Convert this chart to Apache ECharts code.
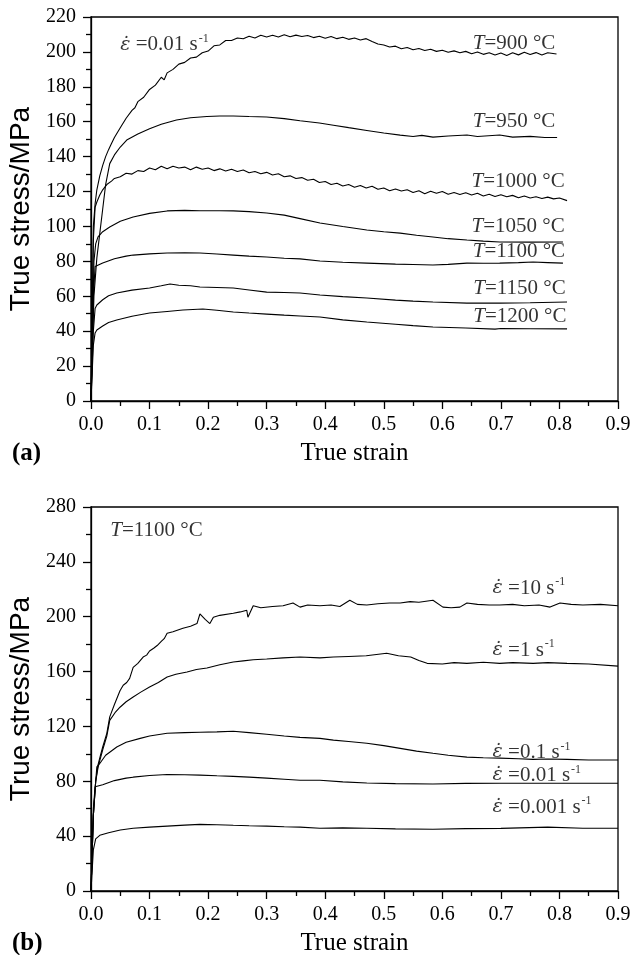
<!DOCTYPE html>
<html>
<head>
<meta charset="utf-8">
<script src="https://cdn.jsdelivr.net/npm/echarts@6.0.0/dist/echarts.min.js"></script>
<style>
  html, body {margin: 0; padding: 0; background: #fff;}
  #chart {width: 630px; height: 955px;}
</style>
</head>
<body>
<div id="chart"></div>
<script>
// (a) strain rate 0.01 s-1, different temperatures: [true strain, true stress MPa]
var t900 = [[0,0],[0.004,100],[0.007,113],[0.01,121],[0.015,129],[0.02,135],[0.025,140],[0.03,144],[0.035,147.5],[0.04,151],[0.05,156.5],[0.06,162],[0.07,166.5],[0.075,168],[0.08,171.5],[0.09,174],[0.1,178.5],[0.11,181],[0.12,185.5],[0.125,184],[0.13,188],[0.14,190],[0.15,193],[0.16,194],[0.17,196.5],[0.18,197],[0.19,199.5],[0.2,200.5],[0.21,203.5],[0.22,204],[0.23,206.5],[0.24,206.5],[0.25,208],[0.26,207.5],[0.27,209],[0.28,208],[0.29,209.5],[0.3,208.5],[0.31,209.5],[0.32,208.5],[0.33,209.8],[0.34,208.7],[0.35,209.6],[0.36,208.8],[0.37,209.4],[0.38,208.2],[0.39,209],[0.4,207.8],[0.41,208.8],[0.42,207.6],[0.43,208.4],[0.44,207.2],[0.45,208],[0.46,206.8],[0.47,207.6],[0.48,206],[0.49,204.5],[0.5,204],[0.51,202.8],[0.52,203.3],[0.53,201.8],[0.54,202.5],[0.55,201.2],[0.56,202],[0.57,200.8],[0.58,201.5],[0.59,200.3],[0.6,201],[0.61,199.8],[0.62,200.6],[0.63,199.5],[0.64,200.3],[0.65,199],[0.66,200],[0.67,198.6],[0.68,199.5],[0.69,198.2],[0.7,199.4],[0.71,198],[0.72,199.5],[0.73,198.3],[0.74,199.8],[0.75,198.5],[0.76,199.6],[0.77,198.2],[0.78,199.5],[0.795,198.8]];
var t950 = [[0,0],[0.005,60],[0.01,82],[0.015,96],[0.02,110],[0.025,124],[0.032,136],[0.04,141],[0.05,145.5],[0.061,149.5],[0.08,153],[0.1,156],[0.12,158.5],[0.146,161],[0.17,162.3],[0.198,163],[0.22,163.3],[0.243,163.3],[0.27,163],[0.3,162.7],[0.33,161.8],[0.357,160.6],[0.39,159.3],[0.414,158],[0.44,156.6],[0.471,155],[0.5,153.5],[0.528,152.3],[0.55,151.5],[0.565,152.2],[0.584,151.2],[0.61,151.8],[0.642,152.4],[0.66,151.5],[0.698,152.4],[0.72,151.2],[0.75,151.6],[0.775,151],[0.796,151]];
var t1000 = [[0,0],[0.004,92],[0.007,111],[0.01,114],[0.015,118],[0.02,121],[0.027,124],[0.035,126],[0.04,127.5],[0.05,128.5],[0.06,130.5],[0.07,130],[0.08,132],[0.09,131.5],[0.1,133.5],[0.11,132.5],[0.12,134.5],[0.13,133],[0.14,134.5],[0.15,133.5],[0.16,134],[0.17,132.5],[0.18,134],[0.19,132.8],[0.2,133.5],[0.21,132],[0.22,133],[0.23,131.8],[0.24,132.8],[0.25,131.5],[0.26,132.3],[0.27,130.8],[0.28,131.5],[0.29,130.2],[0.3,131],[0.31,129.5],[0.32,130.2],[0.33,128.5],[0.34,129],[0.35,127.5],[0.36,128],[0.37,126.5],[0.38,127],[0.39,125.2],[0.4,125.8],[0.41,124],[0.42,124.8],[0.43,123.2],[0.44,124],[0.45,122.5],[0.46,123.5],[0.47,122],[0.48,123],[0.49,121.3],[0.5,122],[0.51,120.5],[0.52,121.5],[0.53,120.3],[0.54,121],[0.55,119.5],[0.56,120.5],[0.57,118.8],[0.58,120.2],[0.59,119],[0.6,120],[0.61,118.5],[0.62,119.5],[0.63,118.3],[0.64,119.3],[0.65,118],[0.66,119],[0.67,117.5],[0.68,118.5],[0.69,117.2],[0.7,118.2],[0.71,117],[0.72,117.8],[0.73,116.5],[0.74,117.5],[0.75,116.3],[0.76,117],[0.77,116],[0.78,116.8],[0.79,115.8],[0.8,116.3],[0.813,114.8]];
var t1050 = [[0,0],[0.005,80],[0.008,90],[0.012,94],[0.02,97],[0.032,99.7],[0.05,103],[0.072,105.4],[0.1,107.5],[0.13,108.9],[0.16,109.2],[0.186,109],[0.22,109],[0.243,108.9],[0.27,108.5],[0.3,107.7],[0.33,106.5],[0.357,104.5],[0.391,102],[0.43,100],[0.471,98],[0.5,97],[0.528,96.2],[0.556,95],[0.584,94],[0.61,93],[0.642,92.2],[0.67,91.6],[0.698,91.1],[0.75,91],[0.806,91.1]];
var t1100 = [[0,0],[0.004,60],[0.007,77],[0.01,77.5],[0.02,79],[0.04,81.5],[0.06,83],[0.072,83.6],[0.1,84.3],[0.13,84.8],[0.16,84.9],[0.186,84.8],[0.215,84.2],[0.243,83.6],[0.27,83],[0.3,82.5],[0.33,81.8],[0.357,81.4],[0.391,80.2],[0.43,79.5],[0.471,79],[0.52,78.4],[0.55,78.2],[0.584,77.9],[0.61,78.3],[0.642,79],[0.67,78.9],[0.698,79],[0.73,79.3],[0.755,79.6],[0.78,79.3],[0.806,79]];
var t1150 = [[0,0],[0.004,40],[0.007,53],[0.01,55],[0.02,58],[0.03,60.3],[0.044,61.9],[0.07,63.5],[0.1,64.7],[0.12,66],[0.135,67],[0.15,66.3],[0.17,66],[0.186,65.3],[0.215,65],[0.243,64.7],[0.27,63.6],[0.3,62.4],[0.33,62.2],[0.357,61.9],[0.391,60.7],[0.43,59.8],[0.471,59],[0.52,57.8],[0.55,57.2],[0.584,56.7],[0.642,56.1],[0.698,56.1],[0.75,56.3],[0.813,56.7]];
var t1200 = [[0,0],[0.004,32],[0.007,39],[0.01,40.7],[0.02,43],[0.03,45],[0.044,46.4],[0.07,48.6],[0.1,50.4],[0.13,51.3],[0.157,52.1],[0.191,52.7],[0.215,52],[0.243,51],[0.27,50.4],[0.3,49.8],[0.33,49.2],[0.357,48.7],[0.391,48.1],[0.43,46.5],[0.471,45.3],[0.52,44],[0.55,43.2],[0.584,42.4],[0.64,41.8],[0.69,41.2],[0.7,41.5],[0.75,41.4],[0.813,41.3]];

// (b) T = 1100 C, different strain rates
var r10 = [[0,0],[0.004,55],[0.008,80],[0.012,92],[0.015,97],[0.02,105],[0.027,115],[0.032,127],[0.04,136],[0.0495,146],[0.055,150],[0.061,152],[0.066,155],[0.072,163],[0.08,166],[0.089,170.6],[0.095,172],[0.1,175],[0.107,177],[0.113,179],[0.12,182],[0.125,184],[0.13,188],[0.14,189],[0.157,191.6],[0.17,193],[0.181,195],[0.186,202],[0.195,198],[0.203,195],[0.209,199.6],[0.22,201],[0.243,202.5],[0.255,203.5],[0.266,204.7],[0.268,199.6],[0.277,208],[0.29,206.5],[0.31,207.5],[0.328,208],[0.345,210],[0.357,207],[0.37,208.5],[0.391,208],[0.41,208.5],[0.425,207.5],[0.442,212],[0.455,209],[0.471,208.5],[0.49,209.5],[0.51,210],[0.528,210],[0.545,211],[0.56,210.5],[0.584,212],[0.601,207],[0.615,206.5],[0.63,207],[0.642,210],[0.66,209],[0.68,208.5],[0.698,208.5],[0.72,209],[0.74,208],[0.765,208.5],[0.784,207],[0.801,210],[0.82,209],[0.84,208.5],[0.87,209],[0.9,208]];
var r1 = [[0,0],[0.004,55],[0.008,80],[0.012,90],[0.015,95],[0.02,103],[0.027,113],[0.032,124.4],[0.041,130],[0.0495,134],[0.06,138],[0.072,141.5],[0.085,145],[0.1,148.8],[0.115,152],[0.13,156],[0.145,158],[0.164,159.7],[0.18,161.5],[0.198,162.6],[0.22,165],[0.243,167],[0.26,167.8],[0.277,168.6],[0.3,169.2],[0.328,170],[0.357,170.6],[0.391,170],[0.414,170.6],[0.44,171],[0.47,171.5],[0.505,173.4],[0.525,171.5],[0.546,170.6],[0.56,168],[0.574,166],[0.6,165.5],[0.62,166.5],[0.642,166],[0.67,166.8],[0.698,166],[0.72,166.5],[0.755,166],[0.78,166.5],[0.813,166],[0.85,165.5],[0.9,164]];
var r01 = [[0,0],[0.004,55],[0.008,80],[0.01,90.5],[0.015,93],[0.025,99],[0.044,105],[0.06,108.5],[0.084,111.3],[0.1,113],[0.13,115],[0.16,115.5],[0.186,115.8],[0.215,116],[0.243,116.5],[0.27,115.5],[0.3,114.3],[0.33,113],[0.357,112],[0.391,111.3],[0.414,110],[0.44,109],[0.471,107.7],[0.5,106],[0.528,104],[0.556,102],[0.584,100.4],[0.61,99],[0.642,97.6],[0.67,97.2],[0.698,96.9],[0.73,96.4],[0.755,96],[0.78,96.2],[0.813,96],[0.85,95.5],[0.9,95.5]];
var r001 = [[0,0],[0.004,60],[0.007,76],[0.01,77],[0.02,77.5],[0.04,80.5],[0.06,82.3],[0.072,83],[0.1,84.2],[0.13,85],[0.16,84.8],[0.186,84.5],[0.215,84],[0.243,83.6],[0.27,83],[0.3,82.3],[0.33,81.5],[0.357,80.8],[0.391,80.8],[0.43,79.6],[0.471,78.7],[0.52,78.3],[0.584,78],[0.64,78.5],[0.698,78.6],[0.8,78.6],[0.9,78.6]];
var r0001 = [[0,0],[0.004,30],[0.008,38],[0.01,39],[0.015,40.6],[0.03,42.5],[0.05,44.5],[0.072,45.7],[0.1,46.6],[0.13,47.3],[0.16,48],[0.186,48.6],[0.215,48.3],[0.243,47.9],[0.27,47.6],[0.3,47.3],[0.33,46.8],[0.357,46.6],[0.391,45.8],[0.43,46],[0.471,45.8],[0.52,45.3],[0.584,45],[0.64,45.5],[0.7,45.7],[0.78,46.6],[0.84,45.8],[0.9,45.8]];

var xTicks = [0, 0.9, 0.1];
var yTicksA = [0, 220, 20];
var yTicksB = [0, 280, 40];

var EPS = "{e|\u03B5\u0307}{n| =";
// annotation text, anchored (left, middle) at a data point
var notesA = [
  {value: [0.049, 204], text: EPS + "0.01 s}{s|-1}"},
  {value: [0.651, 205], text: "{i|T}{n|=900 \u00B0C}"},
  {value: [0.651, 160], text: "{i|T}{n|=950 \u00B0C}"},
  {value: [0.649, 125.5], text: "{i|T}{n|=1000 \u00B0C}"},
  {value: [0.649, 99.7], text: "{i|T}{n|=1050 \u00B0C}"},
  {value: [0.651, 85.4], text: "{i|T}{n|=1100 \u00B0C}"},
  {value: [0.652, 64.7], text: "{i|T}{n|=1150 \u00B0C}"},
  {value: [0.652, 48.7], text: "{i|T}{n|=1200 \u00B0C}"}
];
var notesB = [
  {value: [0.032, 263], text: "{i|T}{n|=1100 \u00B0C}"},
  {value: [0.685, 220.7], text: EPS + "10 s}{s|-1}"},
  {value: [0.685, 175.5], text: EPS + "1 s}{s|-1}"},
  {value: [0.685, 101], text: EPS + "0.1 s}{s|-1}"},
  {value: [0.685, 84.3], text: EPS + "0.01 s}{s|-1}"},
  {value: [0.685, 61], text: EPS + "0.001 s}{s|-1}"}
];

var SERIF = "'Liberation Serif', 'DejaVu Serif', serif";
var SANS = "'Liberation Sans', Arial, sans-serif";
var black = {color: "#000", width: 1.3};

function xAxis(gi) {
  return {gridIndex: gi, type: "value", min: xTicks[0], max: xTicks[1], interval: xTicks[2],
    name: "True strain", nameLocation: "middle", nameGap: 40,
    nameTextStyle: {fontFamily: SERIF, fontSize: 25, color: "#000"},
    axisLine: {lineStyle: black}, axisTick: {length: 8, lineStyle: black},
    minorTick: {show: true, splitNumber: 2, length: 5, lineStyle: black},
    splitLine: {show: false},
    axisLabel: {fontFamily: SERIF, fontSize: 20, color: "#000", margin: 14,
      formatter: function(v) {return v.toFixed(1)}}};
}
function yAxis(gi, t) {
  return {gridIndex: gi, type: "value", min: t[0], max: t[1], interval: t[2],
    name: "True stress/MPa", nameLocation: "middle", nameGap: 54,
    nameTextStyle: {fontFamily: SANS, fontSize: 28, color: "#000"},
    axisLine: {lineStyle: black}, axisTick: {length: 8, lineStyle: black},
    minorTick: {show: true, splitNumber: 2, length: 5, lineStyle: black},
    splitLine: {show: false},
    axisLabel: {fontFamily: SERIF, fontSize: 20, color: "#000", margin: 15}};
}
function curve(data, gi) {
  return {type: "line", xAxisIndex: gi, yAxisIndex: gi, data: data, symbol: "none",
    lineStyle: {color: "#000", width: 1.1}, silent: true, z: 3};
}
var rich = {
  i: {fontFamily: SERIF, fontSize: 21, fontStyle: "italic", color: "#000", lineHeight: 24},
  n: {fontFamily: SERIF, fontSize: 21, color: "#000", lineHeight: 24},
  e: {fontFamily: "'DejaVu Serif', serif", fontSize: 19, fontStyle: "italic", color: "#000", lineHeight: 24},
  s: {fontFamily: SERIF, fontSize: 12, color: "#000", verticalAlign: "top", lineHeight: 24, padding: [0, 0, 10, 1]}
};
function notes(data, gi) {
  return {type: "scatter", xAxisIndex: gi, yAxisIndex: gi, data: data, symbolSize: 1,
    itemStyle: {color: "rgba(0,0,0,0)"}, silent: true, z: 5,
    label: {show: true, position: "right", distance: 0, rich: rich,
      formatter: function(p) {return p.data.text}}};
}

var chart = echarts.init(document.getElementById("chart"), null, {renderer: "canvas"});
chart.setOption({
  animation: false,
  backgroundColor: "#fff",
  grid: [
    {left: 91, top: 17, width: 527, height: 384, show: true, borderColor: "#000", borderWidth: 1.3,
      backgroundColor: "transparent", containLabel: false, outerBoundsMode: "none"},
    {left: 91, top: 507, width: 527, height: 384, show: true, borderColor: "#000", borderWidth: 1.3,
      backgroundColor: "transparent", containLabel: false, outerBoundsMode: "none"}
  ],
  xAxis: [xAxis(0), xAxis(1)],
  yAxis: [yAxis(0, yTicksA), yAxis(1, yTicksB)],
  series: [
    curve(t900, 0), curve(t950, 0), curve(t1000, 0), curve(t1050, 0),
    curve(t1100, 0), curve(t1150, 0), curve(t1200, 0),
    curve(r10, 1), curve(r1, 1), curve(r01, 1), curve(r001, 1), curve(r0001, 1),
    notes(notesA, 0), notes(notesB, 1)
  ],
  graphic: [
    {type: "text", left: 12, top: 441, style: {text: "(a)", font: "bold 25px " + SERIF, fill: "#000"}},
    {type: "text", left: 12, top: 931, style: {text: "(b)", font: "bold 25px " + SERIF, fill: "#000"}}
  ]
});
</script>
</body>
</html>
